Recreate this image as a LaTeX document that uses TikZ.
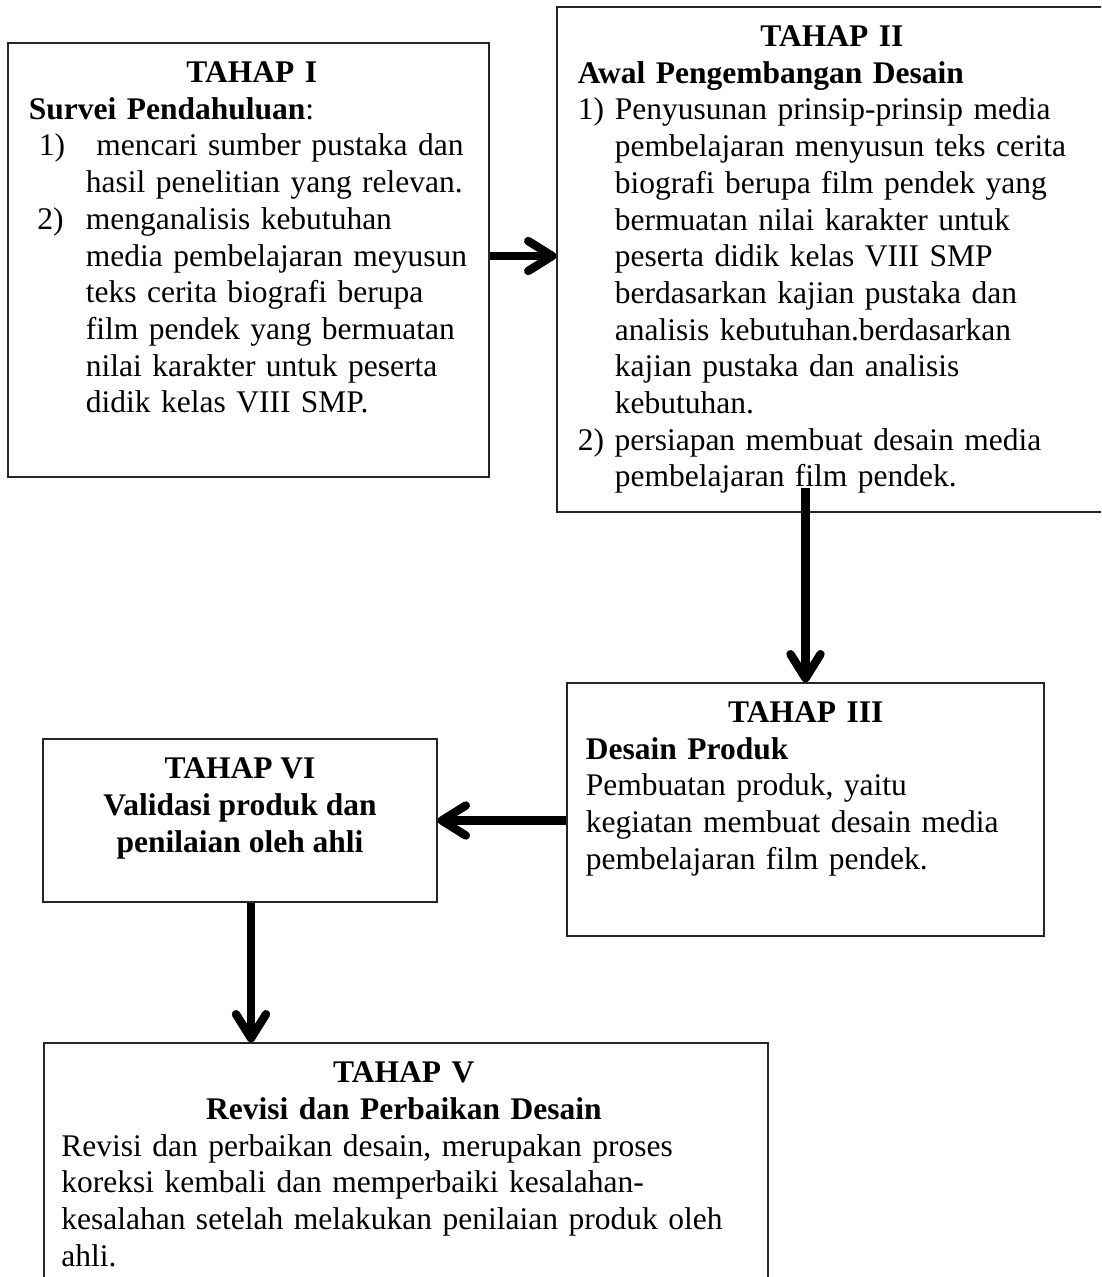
\documentclass[tikz,border=0pt]{standalone}
\usepackage{fontspec}
\setmainfont{Liberation Serif}
\usetikzlibrary{arrows.meta, positioning, calc}
\tikzset{
  tahapbox/.style={rectangle, draw=black!85, line width=0.6pt, inner sep=0pt},
  tahaptxt/.style={inner sep=0pt, anchor=north west, align=left,
                   font=\fontsize{15.75pt}{18.35pt}\selectfont},
  tahapmid/.style={inner sep=0pt, anchor=north, align=center,
                   font=\fontsize{15.75pt}{18.35pt}\selectfont\bfseries},
  alur/.style={draw=black, line width=4.2pt,
               -{Straight Barb[length=12pt, width=15pt, round]}},
}
\newcommand{\judul}[1]{\hfill\textbf{#1}\hfill\null}
\newcommand{\ind}{\hspace*{28.5pt}}
\newcommand{\indb}{\hspace*{18.5pt}}

\begin{document}
\begin{tikzpicture}[x=0.5pt, y=-0.5pt]

\clip (0,0) rectangle (1101,1277);

% kotak tahap
\node[tahapbox, minimum width=240.5pt, minimum height=217pt]   (t1) at (248.5,260)   {};
\node[tahapbox, minimum width=273pt,   minimum height=252.5pt] (t2) at (830,259.5)   {};
\node[tahapbox, minimum width=238.5pt, minimum height=126.5pt] (t3) at (805.5,809.5) {};
\node[tahapbox, minimum width=197pt,   minimum height=81.5pt]  (t6) at (240,820.5)   {};
\node[tahapbox, minimum width=362pt,   minimum height=128.5pt] (t5) at (406,1171.5)  {};

% isi kotak
\node[tahaptxt, text width=223pt] (t1txt) at ([xshift=10.5pt, yshift=-9.5pt]t1.north west)
 {\judul{TAHAP I}\\
  \textbf{Survei Pendahuluan}:\\
  \hspace*{5pt}\makebox[23.5pt][l]{1)} mencari sumber pustaka dan\\
  \ind hasil penelitian yang relevan.\\
  \hspace*{4.25pt}\makebox[24.25pt][l]{2)}menganalisis kebutuhan\\
  \ind media pembelajaran meyusun\\
  \ind teks cerita biografi berupa\\
  \ind film pendek yang bermuatan\\
  \ind nilai karakter untuk peserta\\
  \ind didik kelas VIII SMP.};

\node[tahaptxt, text width=254pt] (t2txt) at ([xshift=10.5pt, yshift=-9.5pt]t2.north west)
 {\judul{TAHAP II}\\
  \textbf{Awal Pengembangan Desain}\\
  \makebox[18.5pt][l]{1)}Penyusunan prinsip-prinsip media\\
  \indb pembelajaran menyusun teks cerita\\
  \indb biografi berupa film pendek yang\\
  \indb bermuatan nilai karakter untuk\\
  \indb peserta didik kelas VIII SMP\\
  \indb berdasarkan kajian pustaka dan\\
  \indb analisis kebutuhan.berdasarkan\\
  \indb kajian pustaka dan analisis\\
  \indb kebutuhan.\\
  2) persiapan membuat desain media\\
  \indb pembelajaran film pendek.};

\node[tahaptxt, text width=220pt] (t3txt) at ([xshift=9.5pt, yshift=-9.5pt]t3.north west)
 {\judul{TAHAP III}\\
  \textbf{Desain Produk}\\
  Pembuatan produk, yaitu\\
  kegiatan membuat desain media\\
  pembelajaran film pendek.};

\node[tahapmid] (t6txt) at ([yshift=-9.5pt]t6.north)
 {TAHAP VI\\ Validasi produk dan\\ penilaian oleh ahli};

\node[tahaptxt, text width=342.5pt] (t5txt) at ([xshift=8.75pt, yshift=-9.5pt]t5.north west)
 {\judul{TAHAP V}\\
  \judul{Revisi dan Perbaikan Desain}\\
  Revisi dan perbaikan desain, merupakan proses\\
  koreksi kembali dan memperbaiki kesalahan-\\
  kesalahan setelah melakukan penilaian produk oleh\\
  ahli.};

% panah alur
\coordinate (a1) at ([yshift=2pt]t1.east);
\coordinate (a2) at ([yshift=12.5pt]t3.north |- t2.south);
\coordinate (a4) at ([xshift=5.5pt]t6.south);

\draw[alur] (a1) -- (a1 -| t2.west);
\draw[alur] (a2) -- (t3.north);
\draw[alur] (t3.west |- t6.east) -- (t6.east);
\draw[alur] (a4) -- (a4 |- t5.north);

\end{tikzpicture}
\end{document}
